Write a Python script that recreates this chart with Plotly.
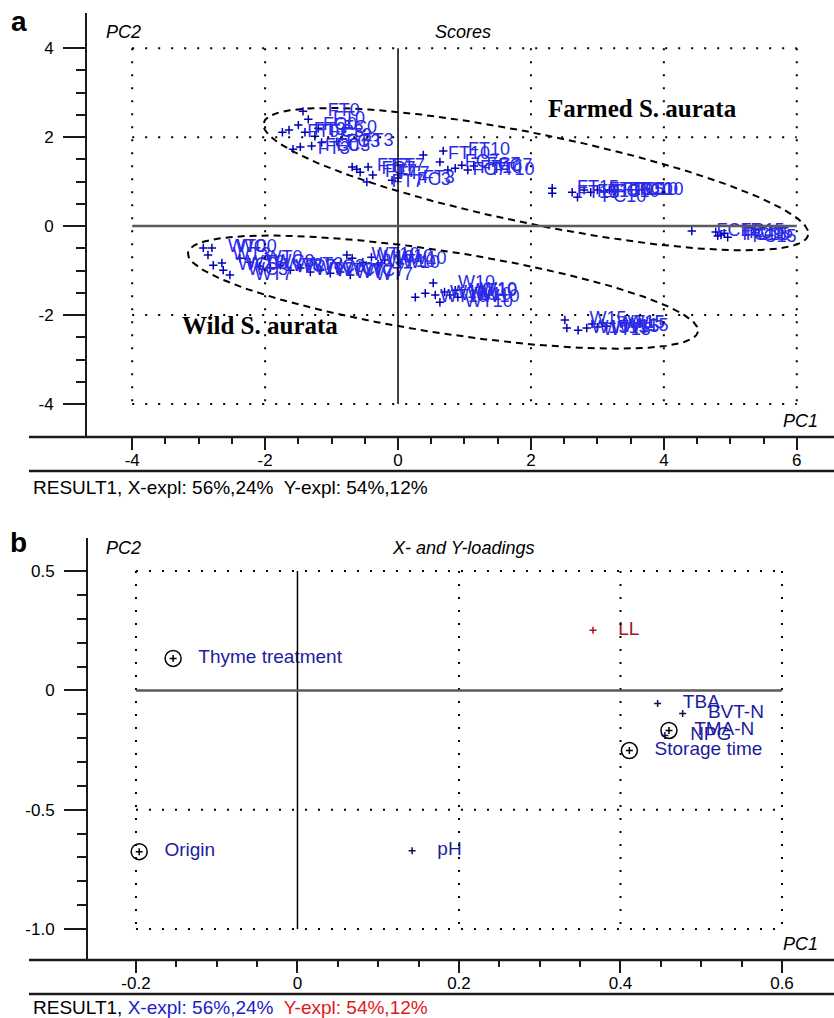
import numpy as np
import plotly.graph_objects as go

W, H = 834, 1018

# ---------------- Panel a : scores (PC1, PC2) ----------------
farmed_labels = [
    "FT0", "FC0", "FT0", "FT3", "FC3", "FT3", "FC0", "FT3", "FC3", "FT3", "FC3", "FT0", "FC0",
    "FT7", "FC7", "FT7", "FT7", "FT7", "FT7", "FC3", "FT3",
    "FT10", "FT10", "FC7", "FC7", "FT10", "FC7", "FT10", "FC7",
    "FT15", "FT15", "FT15", "FC10", "FT15", "FC10", "FT15", "FC10", "FC10", "FC10",
    "FC15", "FC15", "FC15", "FC15", "FC15", "FC15",
]
farmed_pc1 = [
    -1.43, -1.50, -1.74, -1.64, -1.40, -1.58, -1.47, -1.25, -1.15, -0.92, -1.30, -1.35, -1.20,
    -0.69, -0.62, -0.57, -0.45, -0.47, -0.38, -0.09, 0.00,
    0.38, 0.68, 0.63, 0.75, 0.86, 0.96, 1.05, 1.14,
    2.32, 2.32, 2.62, 2.70, 2.80, 2.90, 3.00, 3.10, 3.18, 3.26,
    4.42, 4.78, 4.81, 4.86, 4.91, 4.96,
]
farmed_pc2 = [
    2.58, 2.27, 2.11, 2.16, 2.11, 1.73, 1.78, 2.02, 1.88, 1.90, 1.80, 2.40, 2.20,
    1.33, 1.28, 1.21, 1.33, 0.99, 1.15, 1.03, 1.08,
    1.60, 1.69, 1.44, 1.26, 1.30, 1.37, 1.26, 1.35,
    0.85, 0.74, 0.76, 0.65, 0.81, 0.76, 0.81, 0.79, 0.81, 0.79,
    -0.11, -0.13, -0.22, -0.20, -0.16, -0.25,
]

wild_labels = [
    "WT0", "WC0", "WT3", "WC0", "WT3", "WC3", "WT7", "WT0", "WC3", "WT3", "WC7", "WT3",
    "WT7", "WC3", "WT7", "WC7", "WT7", "WC7", "WT7",
    "WT10", "W10", "WT10", "W10", "W10", "W10",
    "WT10", "W10", "W10", "WT10", "W10", "WT10", "W10", "W10", "W10",
    "W15", "W15", "WT15", "W15", "WT15", "W15", "W15", "W15",
]
wild_pc1 = [
    -2.93, -2.80, -2.86, -2.78, -2.65, -2.63, -2.53, -2.38, -2.23, -2.08, -1.92, -1.77,
    -1.62, -1.47, -1.32, -1.17, -1.02, -0.87, -0.72,
    -0.77, -0.69, -0.53, -0.40, -0.30, -0.20,
    0.26, 0.41, 0.53, 0.63, 0.56, 0.70, 0.78, 0.86, 0.90,
    2.51, 2.54, 2.71, 2.84, 2.92, 3.00, 3.08, 3.14,
]
wild_pc2 = [
    -0.49, -0.49, -0.65, -0.88, -0.83, -0.99, -1.10, -0.72, -0.81, -0.90, -0.94, -0.88,
    -0.99, -0.94, -1.03, -0.99, -1.06, -1.03, -1.10,
    -0.65, -0.72, -0.81, -0.70, -0.85, -0.76,
    -1.60, -1.51, -1.28, -1.71, -1.55, -1.48, -1.55, -1.44, -1.60,
    -2.11, -2.29, -2.34, -2.29, -2.20, -2.27, -2.18, -2.25,
]

a_ticks = [-4, -2, 0, 2, 4, 6]
a_yticks = [-4, -2, 0, 2, 4]

# ---------------- Panel b : X- and Y-loadings ----------------
load_labels = ["Thyme treatment", "Origin", "Storage time", "TMA-N", "NPG", "pH", "LL", "TBA", "BVT-N"]
load_pc1 = [-0.154, -0.196, 0.411, 0.460, 0.455, 0.142, 0.366, 0.446, 0.477]
load_pc2 = [0.134, -0.676, -0.252, -0.168, -0.189, -0.672, 0.252, -0.055, -0.097]
load_type = ["design", "design", "design", "design", "X", "X", "Y", "X", "X"]

b_xticks = [-0.2, 0, 0.2, 0.4, 0.6]
b_xticktext = ["-0.2", "0", "0.2", "0.4", "0.6"]
b_yticks = [-1.0, -0.5, 0, 0.5]
b_yticktext = ["-1.0", "-0.5", "0", "0.5"]

# ---------------- styling / geometry ----------------
FONT = "Arial, Liberation Sans, sans-serif"
SERIF = "Times New Roman, Liberation Serif, serif"
AX = "#1a1a1a"
TXT_BLUE_A = "#2a2ae6"
MRK_BLUE_A = "#0000b4"
TXT_BLUE_B = "#1c1ca0"
RED_B = "#a8141e"

def py2paper(py):
    return 1 - py / H

# panel a plot box in pixels
A_L, A_T, A_B = 87, 13, 437
A_XR = [-4.68, 6.56]
A_YR = [-4.74, 4.79]
# panel b plot box
B_L, B_T, B_B = 88, 538, 960
B_XR = [-0.2594, 0.6644]
B_YR = [-1.130, 0.6387]

kx_a = (W - A_L) / (A_XR[1] - A_XR[0])
ky_a = (A_B - A_T) / (A_YR[1] - A_YR[0])

ellipses = [
    # centre (data), semi axes (px), rotation (deg, screen)
    dict(cx=2.075, cy=1.056, a=278, b=45, rot=11.6),
    dict(cx=0.677, cy=-1.483, a=258, b=41, rot=8.8),
]

fig = go.Figure()

nb = "\u00a0" * 4

# ellipses
for e in ellipses:
    t = np.linspace(0, 2 * np.pi, 300)
    th = np.radians(e["rot"])
    dx = e["a"] * np.cos(t) * np.cos(th) - e["b"] * np.sin(t) * np.sin(th)
    dy = e["a"] * np.cos(t) * np.sin(th) + e["b"] * np.sin(t) * np.cos(th)
    fig.add_trace(go.Scatter(x=e["cx"] + dx / kx_a, y=e["cy"] - dy / ky_a, mode="lines",
                             line=dict(color="black", width=2, dash="7px,5px"),
                             hoverinfo="skip", showlegend=False, xaxis="x", yaxis="y"))

for labs, xs, ys in [(farmed_labels, farmed_pc1, farmed_pc2), (wild_labels, wild_pc1, wild_pc2)]:
    fig.add_trace(go.Scatter(
        x=xs, y=ys, mode="markers+text", text=[nb + s for s in labs],
        textposition="middle right",
        textfont=dict(family=FONT, size=18, color=TXT_BLUE_A),
        marker=dict(symbol="cross-thin", size=6, line=dict(width=1.5, color=MRK_BLUE_A)),
        showlegend=False, xaxis="x", yaxis="y", cliponaxis=False))

# panel b
circ_x = [x for x, k in zip(load_pc1, load_type) if k == "design"]
circ_y = [y for y, k in zip(load_pc2, load_type) if k == "design"]
fig.add_trace(go.Scatter(x=circ_x, y=circ_y, mode="markers",
                         marker=dict(symbol="circle-open", size=16, color="black",
                                     line=dict(width=1.5, color="black")),
                         showlegend=False, xaxis="x2", yaxis="y2"))
cols = [RED_B if k == "Y" else TXT_BLUE_B for k in load_type]
mcols = [RED_B if k == "Y" else ("black" if k == "design" else "#101050") for k in load_type]
fig.add_trace(go.Scatter(
    x=load_pc1, y=load_pc2, mode="markers+text", text=[nb + s for s in load_labels],
    textposition="middle right",
    textfont=dict(family=FONT, size=19, color=cols),
    marker=dict(symbol="cross-thin", size=5, line=dict(width=1.5, color=mcols)),
    showlegend=False, xaxis="x2", yaxis="y2", cliponaxis=False))

shapes = []
DOT = "2px,11px"

def add_grid(xref, yref, xg, yg, xlim, ylim):
    for xv in xg:
        if xv == 0:
            shapes.append(dict(type="line", xref=xref, yref=yref, x0=0, x1=0, y0=ylim[0], y1=ylim[1],
                               line=dict(color="black", width=1.5)))
        else:
            shapes.append(dict(type="line", xref=xref, yref=yref, x0=xv, x1=xv, y0=ylim[1], y1=ylim[0],
                               line=dict(color="black", width=2, dash=DOT)))
    for yv in yg:
        if yv == 0:
            shapes.append(dict(type="line", xref=xref, yref=yref, x0=xlim[0], x1=xlim[1], y0=0, y1=0,
                               line=dict(color="#5a5a5a", width=2.5)))
        else:
            shapes.append(dict(type="line", xref=xref, yref=yref, x0=xlim[0], x1=xlim[1], y0=yv, y1=yv,
                               line=dict(color="black", width=2, dash=DOT)))

add_grid("x", "y", a_ticks, a_yticks, (a_ticks[0], a_ticks[-1]), (a_yticks[0], a_yticks[-1]))
add_grid("x2", "y2", b_xticks, b_yticks, (b_xticks[0], b_xticks[-1]), (b_yticks[0], b_yticks[-1]))

# axis base lines and footer separator lines (paper)
for py in [A_B, 471, B_B, 994]:
    shapes.append(dict(type="line", xref="paper", yref="paper", x0=29 / W, x1=1,
                       y0=py2paper(py), y1=py2paper(py), line=dict(color=AX, width=2.5)))

annotations = []

def ann(text, px, py, size, color="black", family=FONT, xanchor="center"):
    annotations.append(dict(text=text, x=px / W, y=py2paper(py), xref="paper", yref="paper",
                            showarrow=False, xanchor=xanchor, yanchor="middle",
                            font=dict(family=family, size=size, color=color)))

ann("<b>a</b>", 19, 22, 28)
ann("<i>PC2</i>", 123, 32, 18)
ann("<i>Scores</i>", 463, 32, 18)
ann("<i>PC1</i>", 800, 421, 18)
ann("<b>Farmed S. aurata</b>", 642, 108, 25, family=SERIF)
ann("<b>Wild S. aurata</b>", 260, 325, 25, family=SERIF)
ann("RESULT1, X-expl: 56%,24%\u00a0 Y-expl: 54%,12%", 31, 487, 19, xanchor="left")

ann("<b>b</b>", 18, 542, 28)
ann("<i>PC2</i>", 123, 548, 18)
ann("<i>X- and Y-loadings</i>", 463, 548, 18)
ann("<i>PC1</i>", 800, 944, 18)
ann("RESULT1, <span style='color:#2020c8'>X-expl: 56%,24%</span>\u00a0 "
    "<span style='color:#e01818'>Y-expl: 54%,12%</span>", 31, 1007, 19, xanchor="left")

a_minor_x = list(np.arange(a_ticks[0], a_ticks[-1] + 0.01, 0.5))
a_minor_y = list(np.arange(a_yticks[0], a_yticks[-1] + 0.01, 0.5))
b_minor_x = list(np.round(np.arange(b_xticks[0], b_xticks[-1] + 0.001, 0.05), 3))
b_minor_y = list(np.round(np.arange(b_yticks[0], b_yticks[-1] + 0.001, 0.1), 3))

tickfont = dict(family=FONT, size=17, color="black")

def xax(domain, rng, tv, tt, mv, anchor):
    return dict(domain=domain, range=rng, anchor=anchor, showgrid=False, zeroline=False,
                showline=False, ticks="outside", tickmode="array", tickvals=tv, ticktext=tt,
                ticklen=12, tickwidth=2, tickcolor=AX, tickfont=tickfont, ticklabelstandoff=-4,
                automargin=False,
                minor=dict(tickmode="array", tickvals=mv, ticks="outside", ticklen=6,
                           tickwidth=2, tickcolor=AX, showgrid=False),
                fixedrange=True)

def yax(domain, rng, tv, tt, mv, anchor):
    return dict(domain=domain, range=rng, anchor=anchor, showgrid=False, zeroline=False,
                showline=True, linewidth=2, linecolor=AX, ticks="outside", tickmode="array",
                tickvals=tv, ticktext=tt, ticklen=22, tickwidth=2, tickcolor=AX,
                tickfont=tickfont, ticklabelstandoff=6, automargin=False,
                minor=dict(tickmode="array", tickvals=mv, ticks="outside", ticklen=9,
                           tickwidth=2, tickcolor=AX, showgrid=False),
                fixedrange=True)

fig.update_layout(
    width=W, height=H, margin=dict(l=0, r=0, t=0, b=0, autoexpand=False),
    paper_bgcolor="white", plot_bgcolor="white", showlegend=False,
    xaxis=xax([A_L / W, 1], A_XR, a_ticks, [str(v) for v in a_ticks], a_minor_x, "y"),
    yaxis=yax([py2paper(A_B), py2paper(A_T)], A_YR, a_yticks, [str(v) for v in a_yticks], a_minor_y, "x"),
    xaxis2=xax([B_L / W, 1], B_XR, b_xticks, b_xticktext, b_minor_x, "y2"),
    yaxis2=yax([py2paper(B_B), py2paper(B_T)], B_YR, b_yticks, b_yticktext, b_minor_y, "x2"),
    shapes=shapes, annotations=annotations,
)

fig.write_html("out.html", config={"displayModeBar": False},
               post_script="document.body.style.margin='0';document.body.style.overflow='hidden';")
